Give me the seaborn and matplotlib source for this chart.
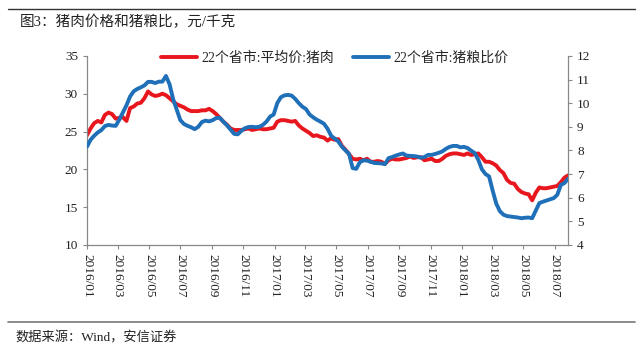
import matplotlib
matplotlib.use("Agg")
import matplotlib.pyplot as plt
import matplotlib.dates as mdates
import seaborn as sns
import pandas as pd

# weekly data, 2016/01 - 2018/07
pork_price = [
    24.5, 25.4, 26.1, 26.4, 26.2, 27.2, 27.5, 27.3, 26.7, 26.8,
    26.9, 26.4, 28.1, 28.3, 28.7, 28.8, 29.4, 30.3, 29.9, 29.7,
    29.8, 30.0, 29.8, 29.4, 29.0, 28.6, 28.4, 28.2, 27.9, 27.7,
    27.7, 27.7, 27.8, 27.8, 28.0, 27.7, 27.3, 26.8, 26.3, 25.9,
    25.4, 25.2, 25.2, 25.2, 25.3, 25.4, 25.2, 25.3, 25.4, 25.3,
    25.3, 25.4, 25.5, 26.3, 26.5, 26.5, 26.4, 26.3, 26.4, 25.8,
    25.4, 25.1, 24.8, 24.4, 24.5, 24.3, 24.2, 23.8, 24.1, 23.9,
    24.0, 23.1, 22.6, 22.0, 21.4, 21.3, 21.4, 21.2, 21.4, 21.0,
    21.0, 21.1, 21.0, 20.7, 21.2, 21.4, 21.3, 21.3, 21.4, 21.5,
    21.7, 21.5, 21.6, 21.6, 21.2, 21.3, 21.4, 21.1, 21.1, 21.4,
    21.8, 22.0, 22.1, 22.1, 22.0, 21.9, 22.1, 21.9, 22.0, 22.1,
    21.6, 21.0, 21.0, 20.8, 20.5, 19.9, 19.5, 18.6, 18.2, 18.1,
    17.4, 17.0, 16.8, 16.7, 15.9, 16.9, 17.6, 17.5, 17.5, 17.6,
    17.7, 17.8, 18.3, 18.9, 19.2,
]
hog_grain_ratio = [
    8.16, 8.45, 8.62, 8.76, 8.86, 9.03, 9.08, 9.05, 9.04, 9.30,
    9.60, 9.91, 10.28, 10.50, 10.60, 10.67, 10.75, 10.90, 10.90, 10.85,
    10.91, 10.91, 11.15, 10.80, 10.17, 9.72, 9.28, 9.12, 9.04, 8.98,
    8.90, 9.00, 9.20, 9.26, 9.23, 9.28, 9.37, 9.38, 9.21, 9.06,
    8.88, 8.70, 8.68, 8.83, 8.94, 8.99, 9.00, 8.98, 9.00, 9.08,
    9.22, 9.43, 9.52, 10.00, 10.25, 10.33, 10.35, 10.32, 10.18, 10.00,
    9.85, 9.75, 9.52, 9.40, 9.30, 9.22, 9.13, 8.92, 8.62, 8.50,
    8.38, 8.16, 8.00, 7.85, 7.25, 7.22, 7.50, 7.58, 7.57, 7.52,
    7.47, 7.46, 7.45, 7.42, 7.67, 7.72, 7.78, 7.83, 7.87, 7.78,
    7.77, 7.76, 7.74, 7.69, 7.72, 7.81, 7.81, 7.85, 7.90, 7.96,
    8.07, 8.15, 8.19, 8.19, 8.13, 8.15, 8.10, 7.99, 7.89, 7.60,
    7.20, 7.00, 6.90, 6.30, 5.75, 5.43, 5.28, 5.22, 5.20, 5.18,
    5.16, 5.13, 5.15, 5.16, 5.13, 5.45, 5.77, 5.83, 5.88, 5.93,
    5.98, 6.12, 6.54, 6.62, 6.80,
]
dates = pd.date_range("2016-01-01", periods=len(pork_price), freq="7D")
tick_dates = pd.date_range("2016-01-01", "2018-07-01", freq="2MS")

left_label = "22个省市:平均价:猪肉"
right_label = "22个省市:猪粮比价"

df = pd.DataFrame({"date": dates, "price": pork_price, "ratio": hog_grain_ratio})

sns.set_style("ticks")
fonts = ["Liberation Serif", "Noto Sans CJK SC", "DejaVu Sans"]
plt.rcParams["font.family"] = fonts
plt.rcParams["axes.unicode_minus"] = False

fig = plt.figure(figsize=(6.41, 3.56), dpi=100)
ax = fig.add_axes([0.1357, 0.312, 0.7505, 0.531])
ax2 = ax.twinx()

red = "#e8161d"
blue = "#1f70b8"
sns.lineplot(data=df, x="date", y="price", ax=ax, color=red, lw=2.8, label=left_label, legend=False)
sns.lineplot(data=df, x="date", y="ratio", ax=ax2, color=blue, lw=2.8, label=right_label, legend=False)

ax.set_xlim(dates[0], dates[-1])
ax.set_ylim(10, 35)
ax2.set_ylim(4, 12)
ax.set_yticks(range(10, 36, 5))
ax2.set_yticks(range(4, 13, 1))
ax.set_xticks(tick_dates)
ax.xaxis.set_major_formatter(mdates.DateFormatter("%Y/%m"))
ax.set_xlabel("")
ax.set_ylabel("")
ax2.set_ylabel("")

spine_c = "#888888"
for a in (ax, ax2):
    a.spines["top"].set_visible(False)
    for s in ("left", "right", "bottom"):
        a.spines[s].set_color(spine_c)
        a.spines[s].set_linewidth(0.9)
    a.tick_params(colors=spine_c, labelcolor="#222222", labelsize=9.5, length=3, width=0.8)
ax.spines["right"].set_visible(False)
ax2.spines["left"].set_visible(False)
ax2.spines["bottom"].set_visible(False)
for lab in ax.get_xticklabels():
    lab.set_rotation(-90)
    lab.set_ha("center")
    lab.set_va("top")

h1, l1 = ax.get_legend_handles_labels()
h2, l2 = ax2.get_legend_handles_labels()
ax.legend(h1 + h2, l1 + l2, ncol=2, frameon=False, loc="upper center",
          bbox_to_anchor=(0.515, 1.09), fontsize=10, handlelength=2.6,
          columnspacing=1.4, handletextpad=0.3)

# title, rules and source note
fig.add_artist(plt.Line2D([0.0125, 0.99], [0.975, 0.975], color="#333333", lw=1.0))
fig.text(0.031, 0.938, "图3：猪肉价格和猪粮比，元/千克", fontsize=10.5, va="center", color="#222222")
fig.add_artist(plt.Line2D([0.0125, 0.99], [0.095, 0.095], color="#777777", lw=1.2))
fig.text(0.024, 0.05, "数据来源：Wind，安信证券", fontsize=9.5, va="center", color="#222222")

fig.savefig("out.png", dpi=100)
